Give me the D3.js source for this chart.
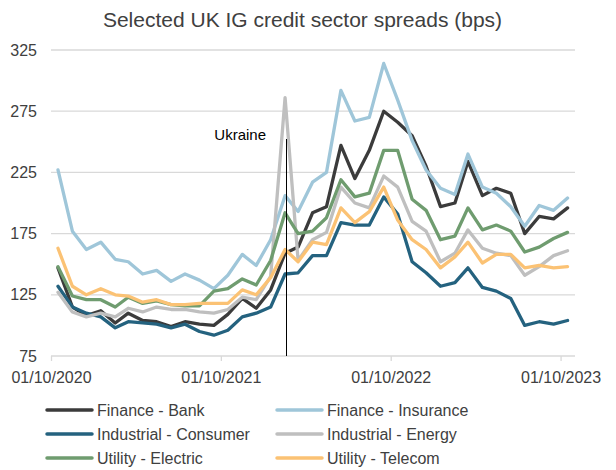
<!DOCTYPE html>
<html>
<head>
<meta charset="utf-8">
<script src="https://cdn.jsdelivr.net/npm/d3@7"></script>
<style>
  html, body { margin: 0; padding: 0; background: #ffffff; }
  svg { display: block; font-family: "Liberation Sans", Arial, sans-serif; }
</style>
</head>
<body>
<svg id="chart" width="616" height="470"></svg>
<script>
// ---------- DATA ----------
const months = [
  "2020-10","2020-11","2020-12","2021-01","2021-02","2021-03","2021-04","2021-05","2021-06",
  "2021-07","2021-08","2021-09","2021-10","2021-11","2021-12","2022-01","2022-02","2022-03",
  "2022-04","2022-05","2022-06","2022-07","2022-08","2022-09","2022-10","2022-11","2022-12",
  "2023-01","2023-02","2023-03","2023-04","2023-05","2023-06","2023-07","2023-08","2023-09","2023-10"
];
const financeBank =        [147,115,108,112,102,110,104,103, 99,103,101,100,109,122,114,129,159,164,192,197,247,220,243,275,266,255,230,197,200,234,206,212,208,175,189,187,196];
const financeInsurance =   [227,177,162,168,154,152,142,145,136,142,137,130,141,158,149,170,206,193,217,225,292,267,270,314,284,251,227,212,207,240,213,208,197,181,198,194,204];
const industrialConsumer = [132,115,110,107, 98,103,102,101, 98,101, 95, 92, 96,107,110,115,142,143,157,157,184,182,182,205,191,152,143,132,135,147,131,128,122,100,103,101,104];
const industrialEnergy =   [127,111,107,110,107,114,111,115,113,113,111,110,113,123,121,140,286,153,170,176,213,200,196,222,213,185,177,152,159,178,163,159,157,141,148,157,161];
const utilityElectric =    [148,124,121,121,115,123,118,120,117,116,116,128,130,138,133,153,192,175,177,188,219,205,208,243,243,203,194,170,173,196,178,182,177,160,164,171,176];
const utilityTelecom =     [163,132,125,130,125,124,119,121,117,117,118,118,118,129,125,139,162,152,168,166,196,184,193,213,186,170,162,147,156,168,151,158,158,147,149,147,148];

const seriesNames = ["Finance - Bank","Finance - Insurance","Industrial - Consumer","Industrial - Energy","Utility - Electric","Utility - Telecom"];
const seriesColors = ["#3b3b3b","#9fc6d9","#24627f","#bfbfbf","#6f9c6f","#fbc274"];
const seriesValues = [financeBank, financeInsurance, industrialConsumer, industrialEnergy, utilityElectric, utilityTelecom];

const yTicks = [75,125,175,225,275,325];
const xTickDates = ["2020-10-01","2021-10-01","2022-10-01","2023-10-01"];
const axisStart = "2020-10-01", axisEnd = "2023-11-01";
const ukraineDate = "2022-02-18";
const ukraineLabel = "Ukraine";
const title = "Selected UK IG credit sector spreads (bps)";

// ---------- CHART ----------
const svg = d3.select("#chart");
const parse = d3.utcParse("%Y-%m-%d");
const monthMid = m => parse(m + "-16");

const x = d3.scaleUtc().domain([parse(axisStart), parse(axisEnd)]).range([51, 575]);
const y = d3.scaleLinear().domain([75, 325]).range([356, 50]);

const textColor = "#404040";
const gridColor = "#d9d9d9";

// title
svg.append("text")
  .attr("x", 302.5).attr("y", 27)
  .attr("text-anchor", "middle")
  .attr("font-size", 21)
  .attr("fill", textColor)
  .text(title);

// gridlines
svg.append("g").selectAll("line").data(yTicks).join("line")
  .attr("x1", 51).attr("x2", 575)
  .attr("y1", d => y(d)).attr("y2", d => y(d))
  .attr("stroke", gridColor).attr("stroke-width", 1.3);

// y axis labels
const yAxis = d3.axisLeft(y).tickValues(yTicks).tickSize(0).tickPadding(0);
const gy = svg.append("g").attr("transform", "translate(37,0)").call(yAxis);
gy.select(".domain").remove();
gy.selectAll("text").attr("font-size", 16).attr("fill", textColor)
  .attr("font-family", "Liberation Sans, Arial, sans-serif");

// x axis
const xAxis = d3.axisBottom(x)
  .tickValues(xTickDates.map(parse))
  .tickFormat(d3.utcFormat("%d/%m/%Y"))
  .tickSize(5).tickPadding(11);
const gx = svg.append("g").attr("transform", "translate(0,356)").call(xAxis);
gx.select(".domain").remove();
gx.selectAll(".tick line").attr("stroke", gridColor).attr("stroke-width", 1.3);
gx.selectAll("text").attr("font-size", 16).attr("fill", textColor)
  .attr("font-family", "Liberation Sans, Arial, sans-serif");

// lines
const line = d3.line()
  .x((d, i) => x(monthMid(months[i])))
  .y(d => y(d));

svg.append("g").selectAll("path").data(seriesValues).join("path")
  .attr("d", d => line(d))
  .attr("fill", "none")
  .attr("stroke", (d, i) => seriesColors[i])
  .attr("stroke-width", 3.3)
  .attr("stroke-linejoin", "round")
  .attr("stroke-linecap", "round");

// Ukraine marker
const ux = Math.round(x(parse(ukraineDate))) + 0.5;
svg.append("line")
  .attr("x1", ux).attr("x2", ux)
  .attr("y1", 139).attr("y2", y(75))
  .attr("stroke", "#000").attr("stroke-width", 1);
svg.append("text")
  .attr("x", 266).attr("y", 140)
  .attr("text-anchor", "end")
  .attr("font-size", 15)
  .attr("fill", "#000")
  .text(ukraineLabel);

// legend
const legend = svg.append("g");
const colX = [47, 277];
const rowY = [410, 434, 458];
seriesNames.forEach((name, i) => {
  const cx = colX[i % 2], cy = rowY[Math.floor(i / 2)];
  legend.append("line")
    .attr("x1", cx).attr("x2", cx + 45)
    .attr("y1", cy).attr("y2", cy)
    .attr("stroke", seriesColors[i]).attr("stroke-width", 3.5)
    .attr("stroke-linecap", "round");
  legend.append("text")
    .attr("x", cx + 50).attr("y", cy + 6)
    .attr("font-size", 16).attr("fill", textColor)
    .text(name);
});
</script>
</body>
</html>
